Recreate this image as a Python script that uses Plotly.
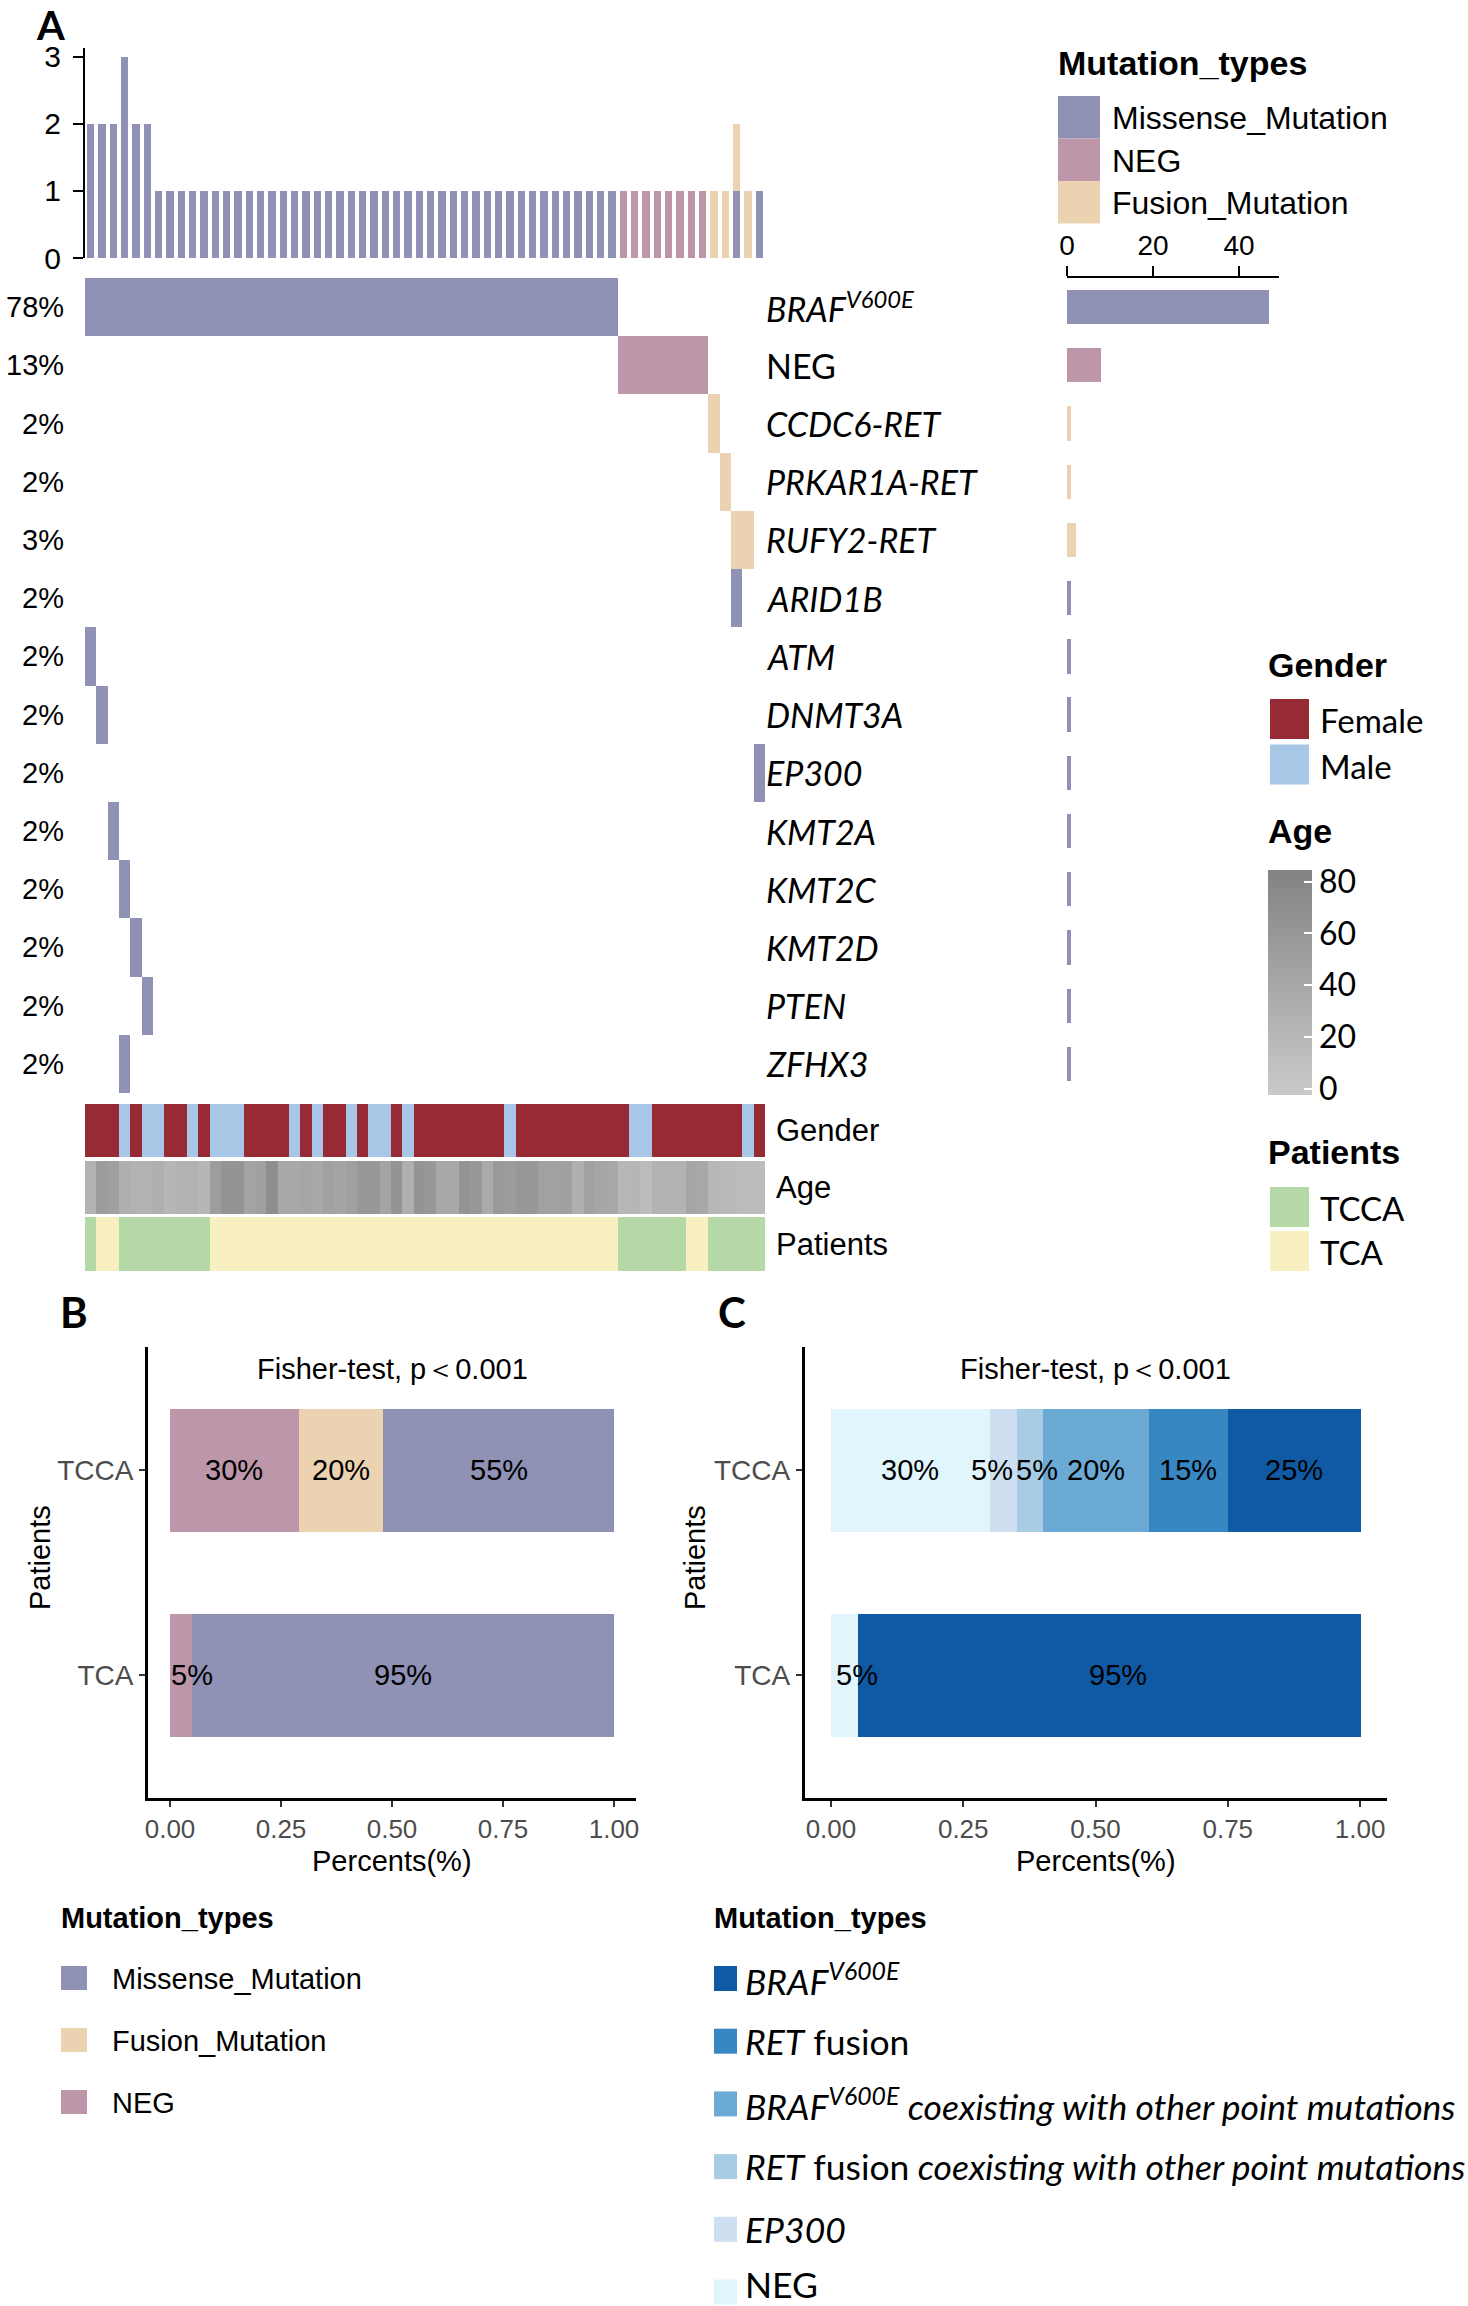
import plotly.graph_objects as go

W, H = 1468, 2306


def px(x):
    return x / W


def py(y):
    return 1 - y / H


ARIAL = "Liberation Sans, Arial, sans-serif"
CALIBRI = "Lato, Calibri, sans-serif"

# ---------------- panel A data ----------------
n_samples = 60
sample_idx = list(range(1, n_samples + 1))

mut_types = ["Missense_Mutation", "NEG", "Fusion_Mutation"]
mut_colors = {"Missense_Mutation": "#8f91b5", "NEG": "#bd96aa", "Fusion_Mutation": "#ebd3b1"}

genes = ["BRAF", "NEG", "CCDC6-RET", "PRKAR1A-RET", "RUFY2-RET", "ARID1B", "ATM",
         "DNMT3A", "EP300", "KMT2A", "KMT2C", "KMT2D", "PTEN", "ZFHX3"]
gene_labels = ["<i>BRAF</i><sup><i>V600E</i></sup>", "NEG", "<i>CCDC6-RET</i>",
               "<i>PRKAR1A-RET</i>", "<i>RUFY2-RET</i>", "<i>ARID1B</i>", "<i>ATM</i>",
               "<i>DNMT3A</i>", "<i>EP300</i>", "<i>KMT2A</i>", "<i>KMT2C</i>",
               "<i>KMT2D</i>", "<i>PTEN</i>", "<i>ZFHX3</i>"]
gene_types = ["Missense_Mutation", "NEG", "Fusion_Mutation", "Fusion_Mutation",
              "Fusion_Mutation", "Missense_Mutation", "Missense_Mutation",
              "Missense_Mutation", "Missense_Mutation", "Missense_Mutation",
              "Missense_Mutation", "Missense_Mutation", "Missense_Mutation",
              "Missense_Mutation"]
# samples (column numbers) carrying each alteration
gene_samples = [list(range(1, 48)), list(range(48, 56)), [56], [57], [58, 59], [58],
                [1], [2], [60], [3], [4], [5], [6], [4]]

gender = "FFFMFMMFFMFMMMFFFFMFMFFMFMMFMFFFFFFFFMFFFFFFFFFFMMFFFFFFFFMF"
patients = "CAACCCCCCCCAAAAAAAAAAAAAAAAAAAAAAAAAAAAAAAAAAAACCCCCCAACCCCC"
ages = [25, 54, 49, 30, 27, 25, 30, 22, 25, 27, 22, 52, 63, 63, 44, 49, 71, 39, 39, 42,
        39, 47, 44, 49, 58, 58, 44, 63, 30, 63, 59, 39, 39, 63, 59, 37, 57, 54, 60, 58,
        47, 47, 49, 30, 47, 42, 39, 20, 22, 15, 25, 27, 25, 42, 39, 20, 17, 17, 15, 15]

gender_names = ["Female", "Male"]
gender_colors = ["#962b36", "#a8c6e5"]
patient_names = ["TCCA", "TCA"]
patient_colors = ["#b5d9a6", "#f8f0c0"]

# ---------------- panel B / C data ----------------
groups = ["TCCA", "TCA"]

b_types = ["NEG", "Fusion_Mutation", "Missense_Mutation"]
b_frac = {"TCCA": [0.29, 0.19, 0.52], "TCA": [0.05, 0.0, 0.95]}
b_text = {"TCCA": ["30%", "20%", "55%"], "TCA": ["5%", "", "95%"]}
b_legend = ["Missense_Mutation", "Fusion_Mutation", "NEG"]

c_types = ["NEG", "EP300", "RET_coexist", "BRAF_coexist", "RET_fusion", "BRAF"]
c_colors = {"NEG": "#e0f5fc", "EP300": "#cddff0", "RET_coexist": "#a8cce4",
            "BRAF_coexist": "#6baad5", "RET_fusion": "#3787c2", "BRAF": "#105aa5"}
c_names = {"BRAF": "<i>BRAF</i><sup><i>V600E</i></sup>",
           "RET_fusion": "<i>RET</i> fusion",
           "BRAF_coexist": "<i>BRAF</i><sup><i>V600E</i></sup><i> coexisting with other point mutations</i>",
           "RET_coexist": "<i>RET</i> fusion<i> coexisting with other point mutations</i>",
           "EP300": "<i>EP300</i>",
           "NEG": "NEG"}
c_frac = {"TCCA": [0.30, 0.05, 0.05, 0.20, 0.15, 0.25], "TCA": [0.05, 0, 0, 0, 0, 0.95]}
c_text = {"TCCA": ["30%", "5%", "5%", "20%", "15%", "25%"], "TCA": ["5%", "", "", "", "", "95%"]}
c_legend = ["BRAF", "RET_fusion", "BRAF_coexist", "RET_coexist", "EP300", "NEG"]

fig = go.Figure()

# ---- oncoprint matrix ----
type_code = {t: i + 1 for i, t in enumerate(mut_types)}
onco = [[None] * n_samples for _ in genes]
for r, cols in enumerate(gene_samples):
    for c in cols:
        onco[r][c - 1] = type_code[gene_types[r]]

m, n, f = (mut_colors[t] for t in mut_types)
fig.add_trace(go.Heatmap(
    z=onco, x=sample_idx, y=list(range(1, len(genes) + 1)), zmin=1, zmax=3,
    colorscale=[[0, m], [0.25, m], [0.25, n], [0.75, n], [0.75, f], [1, f]],
    showscale=False, hoverongaps=False, xaxis="x", yaxis="y2"))

# ---- top barplot: alterations per sample ----
for t in mut_types:
    counts = [sum(1 for r in range(len(genes)) if gene_types[r] == t and c in gene_samples[r])
              for c in sample_idx]
    fig.add_trace(go.Bar(x=sample_idx, y=counts, width=0.67, marker_color=mut_colors[t],
                         showlegend=False, xaxis="x", yaxis="y"))

# ---- right barplot: samples per gene ----
for t in mut_types:
    rows = [r + 1 for r in range(len(genes)) if gene_types[r] == t]
    vals = [len(gene_samples[r - 1]) for r in rows]
    fig.add_trace(go.Bar(y=rows, x=vals, orientation="h", width=0.59,
                         marker_color=mut_colors[t], showlegend=False,
                         xaxis="x3", yaxis="y3"))

# ---- annotation tracks ----
fig.add_trace(go.Heatmap(
    z=[[gender_names.index("Female" if g == "F" else "Male") for g in gender]],
    x=sample_idx, y=[0], zmin=0, zmax=1,
    colorscale=[[0, gender_colors[0]], [0.5, gender_colors[0]],
                [0.5, gender_colors[1]], [1, gender_colors[1]]],
    showscale=False, xaxis="x", yaxis="y4"))
fig.add_trace(go.Heatmap(
    z=[ages], x=sample_idx, y=[0], zmin=-2.7, zmax=84.3,
    colorscale=[[0, "rgb(202,202,202)"], [1, "rgb(131,131,131)"]],
    colorbar=dict(x=px(1268), xanchor="left", y=py(983), yanchor="middle",
                  len=225, lenmode="pixels", thickness=44, thicknessmode="pixels",
                  xpad=0, ypad=0, outlinewidth=0, tickvals=[0, 20, 40, 60, 80],
                  ticks="inside", ticklen=8, tickwidth=2, tickcolor="white",
                  tickfont=dict(family=CALIBRI, size=32, color="black")),
    xaxis="x", yaxis="y5"))
fig.add_trace(go.Heatmap(
    z=[[patient_names.index("TCCA" if p == "C" else "TCA") for p in patients]],
    x=sample_idx, y=[0], zmin=0, zmax=1,
    colorscale=[[0, patient_colors[0]], [0.5, patient_colors[0]],
                [0.5, patient_colors[1]], [1, patient_colors[1]]],
    showscale=False, xaxis="x", yaxis="y6"))

# ---- panel B ----
for i, t in enumerate(b_types):
    fig.add_trace(go.Bar(y=groups, x=[b_frac[g][i] for g in groups], orientation="h",
                         width=0.6, marker_color=mut_colors[t], showlegend=False,
                         xaxis="x7", yaxis="y7"))

# ---- panel C ----
for i, t in enumerate(c_types):
    fig.add_trace(go.Bar(y=groups, x=[c_frac[g][i] for g in groups], orientation="h",
                         width=0.6, marker_color=c_colors[t], showlegend=False,
                         xaxis="x8", yaxis="y8"))

# ---------------- axes ----------------
hidden = dict(visible=False, showgrid=False, zeroline=False)
onco_dom = [py(1093), py(278)]
line_ax = dict(showline=True, linecolor="black", linewidth=2, ticks="outside",
               tickcolor="black", tickwidth=2, showgrid=False, zeroline=False)
bc_x = dict(showline=True, linecolor="black", linewidth=2.5, ticks="outside", ticklen=6,
            tickwidth=2, tickcolor="#333333", showgrid=False, zeroline=False,
            range=[-0.05, 1.05], tickvals=[0, 0.25, 0.5, 0.75, 1],
            ticktext=["0.00", "0.25", "0.50", "0.75", "1.00"],
            tickfont=dict(family=ARIAL, size=26, color="#4d4d4d"))
bc_y = dict(showline=True, linecolor="black", linewidth=2.5, ticks="outside", ticklen=6,
            tickwidth=2, tickcolor="#333333", showgrid=False, zeroline=False,
            type="category", categoryorder="array", categoryarray=["TCA", "TCCA"],
            range=[-0.6, 1.6], domain=[py(1798), py(1347)],
            tickfont=dict(family=ARIAL, size=28, color="#4d4d4d"))

fig.update_layout(
    width=W, height=H, margin=dict(l=0, r=0, t=0, b=0),
    paper_bgcolor="white", plot_bgcolor="white", template="none",
    barmode="stack", bargap=0, showlegend=False,
    xaxis=dict(domain=[px(85), px(765)], range=[0.5, 60.5], anchor="y", **hidden),
    yaxis=dict(domain=[py(258), py(48)], range=[0, 3.13], anchor="x",
               tickvals=[0, 1, 2, 3], ticklen=10, ticklabelstandoff=6,
               tickfont=dict(family=ARIAL, size=30, color="black"), **line_ax),
    yaxis2=dict(domain=onco_dom, range=[14.5, 0.5], anchor="x", **hidden),
    xaxis3=dict(domain=[px(1067), px(1279)], range=[0, 49.3], side="top", anchor="y3",
                tickvals=[0, 20, 40], ticklen=10,
                tickfont=dict(family=ARIAL, size=28, color="black"), **line_ax),
    yaxis3=dict(domain=onco_dom, range=[14.5, 0.5], anchor="x3", **hidden),
    yaxis4=dict(domain=[py(1157), py(1104)], range=[-0.5, 0.5], anchor="x", **hidden),
    yaxis5=dict(domain=[py(1214), py(1161)], range=[-0.5, 0.5], anchor="x", **hidden),
    yaxis6=dict(domain=[py(1271), py(1217)], range=[-0.5, 0.5], anchor="x", **hidden),
    xaxis7=dict(domain=[px(147.8), px(636.2)], anchor="y7", **bc_x),
    yaxis7=dict(anchor="x7", **bc_y),
    xaxis8=dict(domain=[px(804.5), px(1386.5)], anchor="y8", **bc_x),
    yaxis8=dict(anchor="x8", **bc_y),
)


# ---------------- text and legends ----------------
def text(x, y, s, size, family=ARIAL, color="black", xanchor="left", xref="paper",
         yref="paper", bold=False, yanchor="middle", **kw):
    if bold:
        s = "<b>" + s + "</b>"
    fig.add_annotation(x=x, y=y, xref=xref, yref=yref, text=s, showarrow=False,
                       xanchor=xanchor, yanchor=yanchor,
                       font=dict(family=family, size=size, color=color), **kw)


def swatch(x0, y0, x1, y1, color):
    fig.add_shape(type="rect", xref="paper", yref="paper", x0=px(x0), x1=px(x1),
                  y0=py(y0), y1=py(y1), fillcolor=color, line_width=0, layer="above")


# panel letters
text(px(35), 1, "A", 40, family=CALIBRI, bold=True, yanchor="top", borderpad=0)
text(px(58), py(1312), "B", 42, family=CALIBRI, bold=True)
text(px(716), py(1312), "C", 42, family=CALIBRI, bold=True)

# oncoprint row labels
for r, g in enumerate(genes):
    pct = "%d%%" % round(100 * len(gene_samples[r]) / n_samples)
    text(px(66), r + 1, pct, 29, xanchor="right", yref="y2")
    text(px(764), r + 1, gene_labels[r], 34, family=CALIBRI, yref="y2")

text(px(774), 0, "Gender", 31, yref="y4")
text(px(774), 0, "Age", 31, yref="y5")
text(px(774), 0, "Patients", 31, yref="y6")

# top-right legend
text(px(1056), py(63), "Mutation_types", 34, bold=True)
for i, t in enumerate(mut_types):
    top = 96 + i * 42.5
    swatch(1058, top, 1100, top + 42.5, mut_colors[t])
    text(px(1110), py(top + 22), t, 32)

# Gender / Age / Patients legends
text(px(1266), py(665), "Gender", 34, bold=True)
for i, g in enumerate(gender_names):
    top = 699 + i * 45.5
    swatch(1270, top, 1309, top + 40, gender_colors[i])
    text(px(1318), py(top + 21), g, 33, family=CALIBRI)
text(px(1266), py(831), "Age", 34, bold=True)
text(px(1266), py(1152), "Patients", 34, bold=True)
for i, p in enumerate(patient_names):
    top = 1187 + i * 44
    swatch(1270, top, 1309, top + 40, patient_colors[i])
    text(px(1318), py(top + 21), p, 33, family=CALIBRI)

# panel B / C titles, axis titles and bar labels
label_nudge = {("x7", "TCA", 0): 11, ("x8", "TCCA", 1): -11, ("x8", "TCCA", 2): 8,
               ("x8", "TCA", 0): 13, ("x8", "TCA", 5): 9}
for xa, ya, fr, tx, ylab_x in [("x7", "y7", b_frac, b_text, 40),
                                ("x8", "y8", c_frac, c_text, 695)]:
    text(0.5, py(1369), "Fisher-test, p＜0.001", 29, xanchor="center", xref=xa)
    text(0.5, py(1861), "Percents(%)", 29, xanchor="center", xref=xa)
    text(px(ylab_x), py(1558), "Patients", 29, xanchor="center", textangle=-90)
    for g in groups:
        left = 0
        for i, v in enumerate(fr[g]):
            if tx[g][i]:
                text(left + v / 2, g, tx[g][i], 29, xanchor="center", xref=xa, yref=ya,
                     xshift=label_nudge.get((xa, g, i), 0))
            left += v

# bottom legends
text(px(59), py(1918), "Mutation_types", 29, bold=True)
for i, t in enumerate(b_legend):
    top = 1966 + i * 62
    swatch(61, top, 87, top + 24, mut_colors[t])
    text(px(110), py(top + 13), t, 29)

text(px(712), py(1918), "Mutation_types", 29, bold=True)
for i, t in enumerate(c_legend):
    top = 1966 + i * 62.7
    swatch(714, top, 737, top + 25, c_colors[t])
    text(px(743), py(min(top + 12.5, H - 22)), c_names[t], 35.5, family=CALIBRI)

# the page must start at the very top-left corner, like the reference picture
fig.write_html("out.html", config={"displayModeBar": False},
               post_script="document.body.style.margin = '0px';")
